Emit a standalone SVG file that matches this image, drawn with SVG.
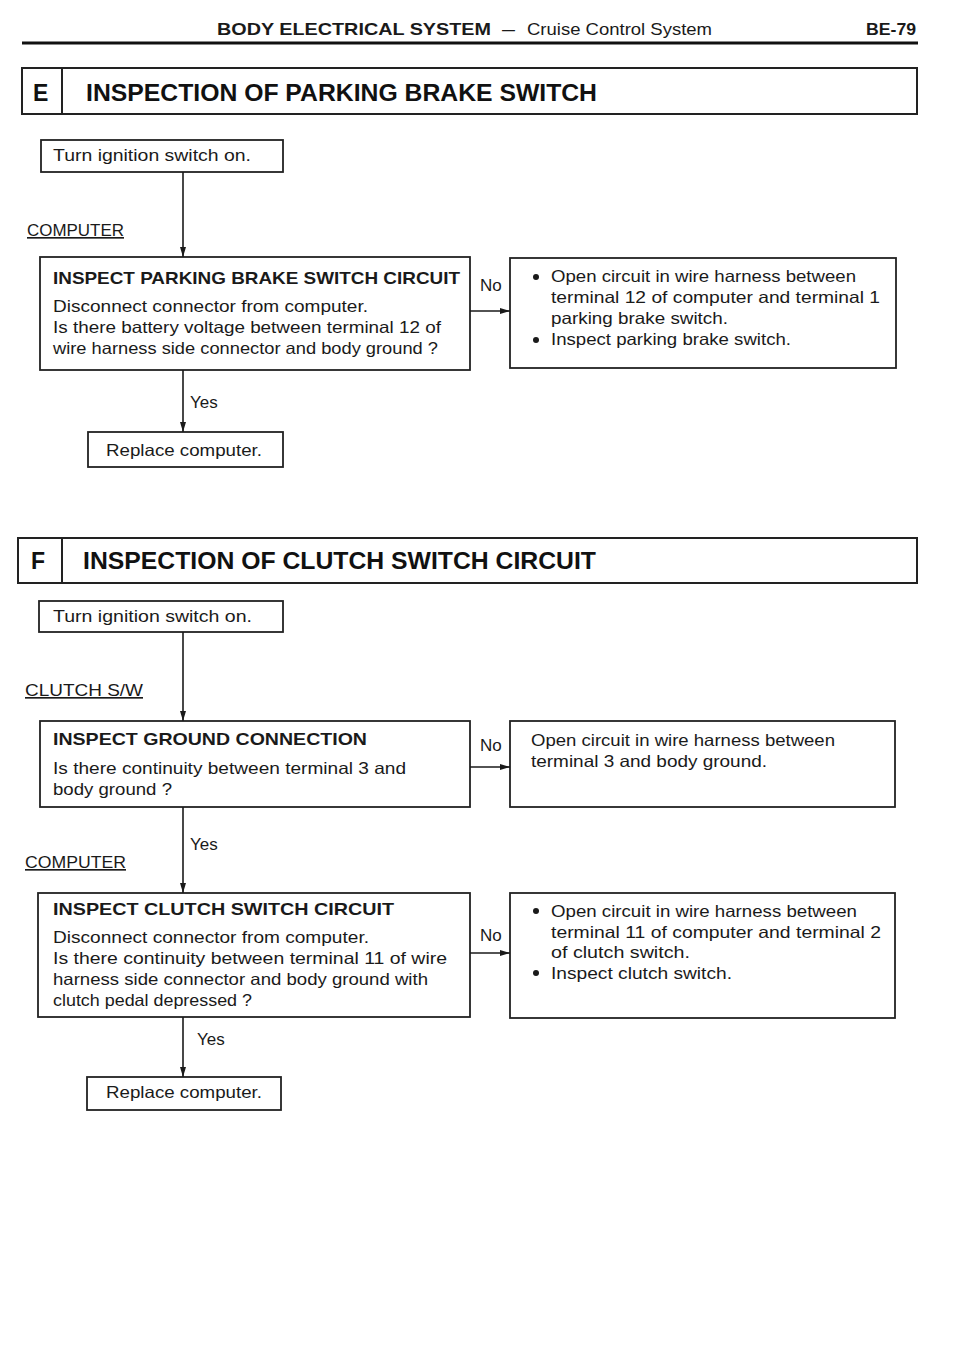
<svg xmlns="http://www.w3.org/2000/svg" width="978" height="1347" viewBox="0 0 978 1347">
<defs>
<marker id="arr" viewBox="0 0 10 6" refX="10" refY="3" markerWidth="10" markerHeight="6" orient="auto" markerUnits="userSpaceOnUse">
<path d="M0,0 L10,3 L0,6 z" fill="#1a1a1a"/>
</marker>
<style>
.box{fill:#fff;stroke:#222;stroke-width:1.8}
.hdr{fill:#fff;stroke:#222;stroke-width:2}
.t{font-family:"Liberation Sans",Arial,sans-serif;font-size:16.5px;fill:#1a1a1a}
.l{font-family:"Liberation Sans",Arial,sans-serif;font-size:17px;fill:#1a1a1a}
.b{font-family:"Liberation Sans",Arial,sans-serif;font-size:17px;font-weight:bold;fill:#1a1a1a}
.h{font-family:"Liberation Sans",Arial,sans-serif;font-size:23px;font-weight:bold;fill:#111}
.u{font-family:"Liberation Sans",Arial,sans-serif;font-size:16.5px;fill:#1a1a1a;text-decoration:underline}
.c{stroke:#1a1a1a;stroke-width:1.6;fill:none}
</style>
</defs>
<rect width="978" height="1347" fill="#fff"/>
<g id="page-header">
<text class="b" x="217" y="35" textLength="274" lengthAdjust="spacingAndGlyphs">BODY ELECTRICAL SYSTEM</text>
<text class="t" x="502" y="35" textLength="13" lengthAdjust="spacingAndGlyphs">–</text>
<text class="t" x="527" y="35" textLength="185" lengthAdjust="spacingAndGlyphs">Cruise Control System</text>
<text class="b" x="866" y="35" textLength="50" lengthAdjust="spacingAndGlyphs">BE-79</text>
<line x1="22" y1="43" x2="918" y2="43" stroke="#111" stroke-width="3"/>
</g>
<g id="section-E">
<rect class="hdr" x="22" y="68" width="895" height="46"/>
<line x1="62" y1="68" x2="62" y2="114" stroke="#222" stroke-width="2"/>
<text class="h" x="33" y="101" font-size="21">E</text>
<text class="h" x="86" y="101" textLength="511" lengthAdjust="spacingAndGlyphs">INSPECTION OF PARKING BRAKE SWITCH</text>
</g>
<g id="E-start">
<rect class="box" x="41" y="140" width="242" height="32"/>
<text class="t" x="53" y="161" textLength="198" lengthAdjust="spacingAndGlyphs">Turn ignition switch on.</text>
</g>
<g id="E-label-computer">
<text class="u" x="27" y="236" textLength="97" lengthAdjust="spacingAndGlyphs">COMPUTER</text>
</g>
<g id="E-inspect">
<rect class="box" x="40" y="257" width="430" height="113"/>
<text class="b" x="53" y="284" textLength="407" lengthAdjust="spacingAndGlyphs">INSPECT PARKING BRAKE SWITCH CIRCUIT</text>
<text class="t" x="53" y="312" textLength="315" lengthAdjust="spacingAndGlyphs">Disconnect connector from computer.</text>
<text class="t" x="53" y="333" textLength="388" lengthAdjust="spacingAndGlyphs">Is there battery voltage between terminal 12 of</text>
<text class="t" x="53" y="354" textLength="385" lengthAdjust="spacingAndGlyphs">wire harness side connector and body ground ?</text>
</g>
<g id="E-no-result">
<rect class="box" x="510" y="258" width="386" height="110"/>
<circle cx="536" cy="277" r="3" fill="#1a1a1a"/>
<text class="t" x="551" y="282" textLength="305" lengthAdjust="spacingAndGlyphs">Open circuit in wire harness between</text>
<text class="t" x="551" y="303" textLength="329" lengthAdjust="spacingAndGlyphs">terminal 12 of computer and terminal 1</text>
<text class="t" x="551" y="324" textLength="177" lengthAdjust="spacingAndGlyphs">parking brake switch.</text>
<circle cx="536" cy="340" r="3" fill="#1a1a1a"/>
<text class="t" x="551" y="345" textLength="240" lengthAdjust="spacingAndGlyphs">Inspect parking brake switch.</text>
</g>
<g id="E-replace">
<rect class="box" x="88" y="432" width="195" height="35"/>
<text class="t" x="106" y="456" textLength="156" lengthAdjust="spacingAndGlyphs">Replace computer.</text>
</g>
<g id="section-F">
<rect class="hdr" x="18" y="538" width="899" height="45"/>
<line x1="62" y1="538" x2="62" y2="583" stroke="#222" stroke-width="2"/>
<text class="h" x="31" y="569" font-size="21">F</text>
<text class="h" x="83" y="569" textLength="513" lengthAdjust="spacingAndGlyphs">INSPECTION OF CLUTCH SWITCH CIRCUIT</text>
</g>
<g id="F-start">
<rect class="box" x="39" y="601" width="244" height="31"/>
<text class="t" x="53" y="622" textLength="199" lengthAdjust="spacingAndGlyphs">Turn ignition switch on.</text>
</g>
<g id="F-label-clutch">
<text class="u" x="25" y="696" textLength="118" lengthAdjust="spacingAndGlyphs">CLUTCH  S/W</text>
</g>
<g id="F-ground">
<rect class="box" x="40" y="721" width="430" height="86"/>
<text class="b" x="53" y="745" textLength="314" lengthAdjust="spacingAndGlyphs">INSPECT  GROUND  CONNECTION</text>
<text class="t" x="53" y="774" textLength="353" lengthAdjust="spacingAndGlyphs">Is there continuity between terminal 3 and</text>
<text class="t" x="53" y="795" textLength="119" lengthAdjust="spacingAndGlyphs">body ground ?</text>
</g>
<g id="F-ground-no-result">
<rect class="box" x="510" y="721" width="385" height="86"/>
<text class="t" x="531" y="746" textLength="304" lengthAdjust="spacingAndGlyphs">Open circuit in wire harness between</text>
<text class="t" x="531" y="767" textLength="236" lengthAdjust="spacingAndGlyphs">terminal 3 and body ground.</text>
</g>
<g id="F-label-computer">
<text class="u" x="25" y="868" textLength="101" lengthAdjust="spacingAndGlyphs">COMPUTER</text>
</g>
<g id="F-clutch">
<rect class="box" x="38" y="893" width="432" height="124"/>
<text class="b" x="53" y="915" textLength="341" lengthAdjust="spacingAndGlyphs">INSPECT  CLUTCH  SWITCH  CIRCUIT</text>
<text class="t" x="53" y="943" textLength="316" lengthAdjust="spacingAndGlyphs">Disconnect connector from computer.</text>
<text class="t" x="53" y="964" textLength="394" lengthAdjust="spacingAndGlyphs">Is there continuity between terminal 11 of wire</text>
<text class="t" x="53" y="985" textLength="375" lengthAdjust="spacingAndGlyphs">harness side connector and body ground with</text>
<text class="t" x="53" y="1006" textLength="199" lengthAdjust="spacingAndGlyphs">clutch pedal depressed ?</text>
</g>
<g id="F-clutch-no-result">
<rect class="box" x="510" y="893" width="385" height="125"/>
<circle cx="536" cy="911" r="3" fill="#1a1a1a"/>
<text class="t" x="551" y="917" textLength="306" lengthAdjust="spacingAndGlyphs">Open circuit in wire harness between</text>
<text class="t" x="551" y="938" textLength="330" lengthAdjust="spacingAndGlyphs">terminal 11 of computer and terminal 2</text>
<text class="t" x="551" y="958" textLength="139" lengthAdjust="spacingAndGlyphs">of clutch switch.</text>
<circle cx="536" cy="973" r="3" fill="#1a1a1a"/>
<text class="t" x="551" y="979" textLength="181" lengthAdjust="spacingAndGlyphs">Inspect clutch switch.</text>
</g>
<g id="F-replace">
<rect class="box" x="87" y="1077" width="194" height="33"/>
<text class="t" x="106" y="1098" textLength="156" lengthAdjust="spacingAndGlyphs">Replace computer.</text>
</g>
<g id="connectors">
<line class="c" x1="183" y1="172" x2="183" y2="257" marker-end="url(#arr)"/>
<line class="c" x1="470" y1="311" x2="510" y2="311" marker-end="url(#arr)"/>
<text class="l" x="480" y="291">No</text>
<line class="c" x1="183" y1="370" x2="183" y2="432" marker-end="url(#arr)"/>
<text class="l" x="190" y="408">Yes</text>
<line class="c" x1="183" y1="632" x2="183" y2="721" marker-end="url(#arr)"/>
<line class="c" x1="470" y1="767" x2="510" y2="767" marker-end="url(#arr)"/>
<text class="l" x="480" y="751">No</text>
<line class="c" x1="183" y1="807" x2="183" y2="893" marker-end="url(#arr)"/>
<text class="l" x="190" y="850">Yes</text>
<line class="c" x1="470" y1="953" x2="510" y2="953" marker-end="url(#arr)"/>
<text class="l" x="480" y="941">No</text>
<line class="c" x1="183" y1="1017" x2="183" y2="1077" marker-end="url(#arr)"/>
<text class="l" x="197" y="1045">Yes</text>
</g>
</svg>
